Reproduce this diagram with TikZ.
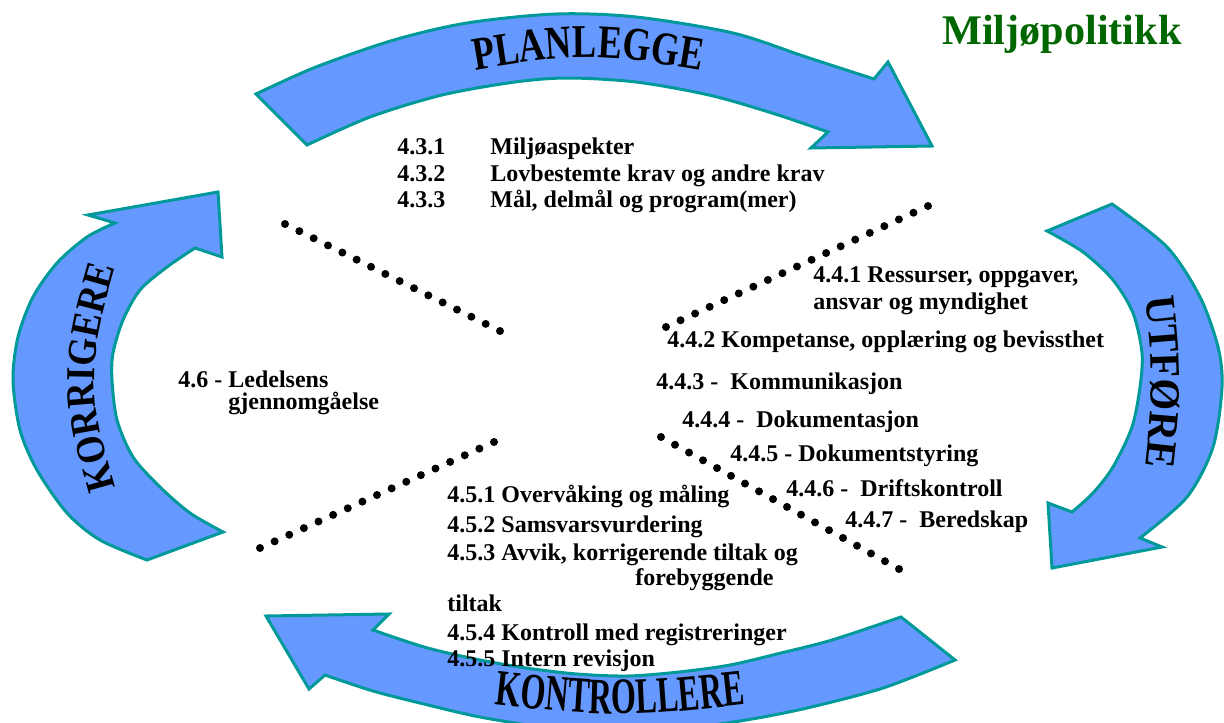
\documentclass[tikz,border=0pt]{standalone}
\usepackage{fontspec}
\setmainfont{Liberation Serif}
\newfontfamily\planfont[FakeStretch=0.77]{Liberation Serif}
\newfontfamily\kontfont[FakeStretch=0.63]{Liberation Serif}
\newfontfamily\korrfont[FakeStretch=0.88]{Liberation Serif}
\newfontfamily\utfont[FakeStretch=0.95]{Liberation Serif}
\usetikzlibrary{calc,decorations.text}

\newlength{\du}
\setlength{\du}{0.5pt}

\definecolor{pilfyll}{RGB}{102,153,255}
\definecolor{pilkant}{RGB}{0,153,153}
\definecolor{tittelgronn}{RGB}{0,102,0}

\tikzset{
  pil/.style={fill=pilfyll, draw=pilkant, line width=3\du},
  punkt/.style={anchor=base west, inner sep=0pt, font=\bfseries\fontsize{12}{14}\selectfont},
}

\begin{document}
\begin{tikzpicture}[x=\du,y=-\du]
\useasboundingbox (0,0) rectangle (1224,722);
\clip (0,0) rectangle (1224,722);

% PLANLEGGE
\filldraw[pil] plot[smooth] coordinates {(256,94) (316,67) (394,40) (467,23) (556,14) (636,17) (733,33) (806,57) (874,79)}
  -- (888,62) -- (932,146) -- (811,148) -- (828,132)
  -- plot[smooth] coordinates {(828,132) (772,113) (709,95) (636,82) (568,78) (515,82) (442,95) (370,117) (307,145)}
  -- cycle;
\path[decorate, decoration={text along path, text align=center,
  text={|\planfont\bfseries\fontsize{23.5}{23.5}\selectfont|PLANLEGGE}}]
  (420,80) .. controls (588,50) .. (756,80);

% UTFORE
\filldraw[pil] plot[smooth] coordinates {(1112,204) (1167,247) (1200,297) (1218,347) (1222,387) (1213,447) (1187,497) (1140,538)}
  -- (1162,547) -- (1052,568) -- (1048,503) -- (1072,512)
  -- plot[smooth] coordinates {(1072,512) (1093,493) (1113,467) (1132,427) (1140,387) (1142,353) (1133,313) (1113,280) (1083,252) (1047,231)}
  -- cycle;
\path[decorate, decoration={text along path, text align=center,
  text={|\utfont\bfseries\fontsize{21.5}{21.5}\selectfont|UTFØRE}}]
  (1138,240) .. controls (1156,382) .. (1138,524);

% KONTROLLERE
\filldraw[pil] plot[smooth] coordinates {(955,660) (883,688) (807,708) (746,720) (680,729) (615,732) (550,728) (480,717) (424,704) (373,691) (325,675)}
  -- (309,689) -- (266,616) -- (389,614) -- (373,630)
  -- plot[smooth] coordinates {(373,630) (424,647) (475,659) (526,668) (577,674) (628,676) (679,672) (730,665) (781,653) (832,640) (901,617)}
  -- cycle;
\path[decorate, decoration={text along path, text align=center,
  text={|\kontfont\bfseries\fontsize{25.5}{25.5}\selectfont|KONTROLLERE}}]
  (440,698) .. controls (620,719) .. (800,698);

% KORRIGERE
\filldraw[pil] plot[smooth] coordinates {(147,560) (100,540) (67,513) (37,470) (20,430) (13,380) (18,337) (33,297) (57,263) (87,237) (115,223)}
  -- (88,215) -- (218,192) -- (222,257) -- (195,248)
  -- plot[smooth] coordinates {(195,248) (167,267) (140,290) (123,320) (113,353) (112,380) (117,420) (133,457) (160,487) (190,513) (223,532)}
  -- cycle;
\path[decorate, decoration={text along path, text align=center,
  text={|\korrfont\bfseries\fontsize{20.5}{20.5}\selectfont|KORRIGERE}}]
  (131,540) .. controls (82,378) .. (131,215);

\node[anchor=base west, inner sep=0pt, text=tittelgronn, font=\bfseries\fontsize{21.1}{24}\selectfont] (tittel) at (942,45) {Miljøpolitikk};

% 4.3
\node[punkt] (n431) at (397,155) {4.3.1};
\node[punkt] (t431) at (490,155) {Miljøaspekter};
\node[punkt] (n432) at (397,181) {4.3.2};
\node[punkt] (t432) at (490,181) {Lovbestemte krav og andre krav};
\node[punkt] (n433) at (397,207) {4.3.3};
\node[punkt] (t433) at (490,207) {Mål, delmål og program(mer)};

% 4.4
\node[punkt] (t441a) at (813,282) {4.4.1 Ressurser, oppgaver,};
\node[punkt] (t441b) at (813,309) {ansvar og myndighet};
\node[punkt] (t442) at (667,347) {4.4.2 Kompetanse, opplæring og bevissthet};
\node[punkt] (t443) at (656,389) {4.4.3 -\ \ Kommunikasjon};
\node[punkt] (t444) at (682,427) {4.4.4 -\ \ Dokumentasjon};
\node[punkt] (t445) at (730,461) {4.4.5 - Dokumentstyring};
\node[punkt] (t446) at (786,496) {4.4.6 -\ \ Driftskontroll};
\node[punkt] (t447) at (845,527) {4.4.7 -\ \ Beredskap};

% 4.5
\node[punkt] (t451) at (447,502) {4.5.1 Overvåking og måling};
\node[punkt] (t452) at (447,532) {4.5.2 Samsvarsvurdering};
\node[punkt] (t453a) at (447,560) {4.5.3 Avvik, korrigerende tiltak og};
\node[punkt] (t453b) at (635,585) {forebyggende};
\node[punkt] (t453c) at (447,611) {tiltak};
\node[punkt] (t454) at (447,640) {4.5.4 Kontroll med registreringer};
\node[punkt] (t455) at (447,666) {4.5.5 Intern revisjon};

% 4.6
\node[punkt] (t46a) at (178,387) {4.6 - Ledelsens};
\node[punkt] (t46b) at (228,409) {gjennomgåelse};

% prikklinjer
\coordinate (ov1) at (285,224);
\coordinate (ov2) at (500,331);
\coordinate (oh1) at (666,327);
\coordinate (oh2) at (928,206);
\coordinate (nv1) at (260,548);
\coordinate (nv2) at (494,442);
\coordinate (nh1) at (661,437);
\coordinate (nh2) at (899,569);
\foreach \a/\b/\n in {ov1/ov2/15, oh1/oh2/18, nv1/nv2/16, nh1/nh2/17}
  \foreach \i in {0,...,\n}
    \fill ($(\a)!\i/\n!(\b)$) circle (4\du);
\end{tikzpicture}
\end{document}
